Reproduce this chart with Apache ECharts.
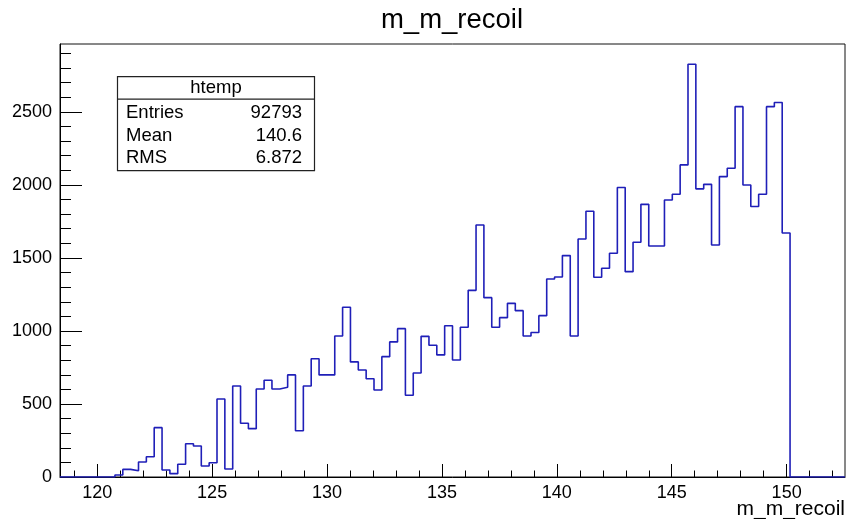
<!DOCTYPE html>
<html>
<head>
<meta charset="utf-8">
<script src="https://cdn.jsdelivr.net/npm/echarts@6/dist/echarts.min.js"></script>
<style>
html,body{margin:0;padding:0;background:#fff;}
#chart{width:848px;height:519px;}
</style>
</head>
<body>
<div id="chart"></div>
<script>
// ---- data ----
const chartTitle = "m_m_recoil";
const xAxisTitle = "m_m_recoil";
const histName = "htemp";
const statLabels = ["Entries", "Mean", "RMS"];
const statValues = ["92793", "140.6", "6.872"];
const xMin = 118.38;
const xMax = 152.54;
const yMax = 2965;
const nBins = 100;
const counts = [
  0, 0, 0, 0, 0, 0, 0, 14, 52, 43,
  103, 139, 338, 48, 23, 87, 228, 212, 75, 98,
  534, 55, 623, 368, 331, 603, 662, 603, 614, 699,
  317, 623, 810, 699, 699, 966, 1162, 788, 733, 673,
  596, 824, 925, 1016, 560, 712, 963, 902, 836, 1036,
  801, 1025, 1278, 1726, 1228, 1025, 1091, 1189, 1139, 966,
  989, 1105, 1356, 1370, 1516, 966, 1630, 1820, 1368, 1429,
  1532, 1982, 1406, 1607, 1867, 1582, 1582, 1897, 1936, 2137,
  2826, 1973, 2004, 1589, 2057, 2114, 2536, 2000, 1852, 1936,
  2536, 2564, 1671, 0, 0, 0, 0, 0, 0, 0
];
const xMajorTicks = [120, 125, 130, 135, 140, 145, 150];
const xMinorTicks = [119, 121, 122, 123, 124, 126, 127, 128, 129, 131, 132, 133, 134, 136, 137, 138, 139, 141, 142, 143, 144, 146, 147, 148, 149, 151, 152];
const yMajorTicks = [0, 500, 1000, 1500, 2000, 2500];
const yMinorTicks = [100, 200, 300, 400, 600, 700, 800, 900, 1100, 1200, 1300, 1400, 1600, 1700, 1800, 1900, 2100, 2200, 2300, 2400, 2600, 2700, 2800, 2900];

// ---- build step outline from bins ----
const binWidth = (xMax - xMin) / nBins;
const stepData = counts.map((c, k) => [xMin + k * binWidth, c]);
stepData.push([xMax, counts[nBins - 1]]);

const FONT = "'Liberation Sans', Arial, Helvetica, sans-serif";
const GRID = { left: 60, right: 3, top: 44, bottom: 42 };
const STAT_FONT = '18.5px ' + FONT;

const chart = echarts.init(document.getElementById('chart'), null, { renderer: 'canvas' });
const black = '#000';
const plain = v => String(v);

chart.setOption({
  animation: false,
  backgroundColor: '#fff',
  grid: Object.assign({ show: true, borderColor: '#111', borderWidth: 1, backgroundColor: 'transparent' }, GRID),
  xAxis: [
    {
      type: 'value', min: xMin, max: xMax, position: 'bottom',
      axisLine: { show: true, onZero: false, lineStyle: { color: black, width: 1 } },
      axisTick: { show: true, inside: true, length: 13, customValues: xMajorTicks, lineStyle: { color: black, width: 1 } },
      axisLabel: { show: true, customValues: xMajorTicks, formatter: plain, fontSize: 18, color: black, fontFamily: FONT, margin: 7 },
      splitLine: { show: false }
    },
    {
      type: 'value', min: xMin, max: xMax, position: 'bottom',
      axisLine: { show: false },
      axisTick: { show: true, inside: true, length: 6.5, customValues: xMinorTicks, lineStyle: { color: black, width: 1 } },
      axisLabel: { show: false },
      splitLine: { show: false }
    }
  ],
  yAxis: [
    {
      type: 'value', min: 0, max: yMax, position: 'left',
      axisLine: { show: true, onZero: false, lineStyle: { color: black, width: 1 } },
      axisTick: { show: true, inside: true, length: 22, customValues: yMajorTicks, lineStyle: { color: black, width: 1 } },
      axisLabel: { show: true, customValues: yMajorTicks, formatter: plain, fontSize: 18, color: black, fontFamily: FONT, margin: 8 },
      splitLine: { show: false }
    },
    {
      type: 'value', min: 0, max: yMax, position: 'left', offset: 0,
      axisLine: { show: false },
      axisTick: { show: true, inside: true, length: 11, customValues: yMinorTicks, lineStyle: { color: black, width: 1 } },
      axisLabel: { show: false },
      splitLine: { show: false }
    }
  ],
  series: [
    {
      type: 'line', xAxisIndex: 0, yAxisIndex: 0,
      step: 'end', showSymbol: false, symbol: 'none',
      data: stepData,
      lineStyle: { color: '#1f1fb8', width: 1.6 },
      z: 5
    }
  ],
  graphic: [
    {
      type: 'text', z: 100,
      style: { text: chartTitle, x: 452, y: 20, textAlign: 'center', textVerticalAlign: 'middle', font: '27.5px ' + FONT, fill: black }
    },
    {
      type: 'text', z: 100,
      style: { text: xAxisTitle, x: 845, y: 509, textAlign: 'right', textVerticalAlign: 'middle', font: '21px ' + FONT, fill: black }
    },
    {
      type: 'group', left: 115, top: 76, z: 100,
      children: [
        { type: 'rect', shape: { x: 0.5, y: 0.5, width: 197, height: 94 }, style: { fill: '#fff', stroke: '#222', lineWidth: 1.2 } },
        { type: 'line', shape: { x1: 0.5, y1: 23, x2: 197.5, y2: 23 }, style: { stroke: '#222', lineWidth: 1.2 } },
        { type: 'text', style: { text: histName, x: 99, y: 12, textAlign: 'center', textVerticalAlign: 'middle', font: STAT_FONT, fill: black } },
        { type: 'text', style: { text: statLabels[0], x: 9, y: 37, textAlign: 'left', textVerticalAlign: 'middle', font: STAT_FONT, fill: black } },
        { type: 'text', style: { text: statLabels[1], x: 9, y: 60, textAlign: 'left', textVerticalAlign: 'middle', font: STAT_FONT, fill: black } },
        { type: 'text', style: { text: statLabels[2], x: 9, y: 82, textAlign: 'left', textVerticalAlign: 'middle', font: STAT_FONT, fill: black } },
        { type: 'text', style: { text: statValues[0], x: 185, y: 37, textAlign: 'right', textVerticalAlign: 'middle', font: STAT_FONT, fill: black } },
        { type: 'text', style: { text: statValues[1], x: 185, y: 60, textAlign: 'right', textVerticalAlign: 'middle', font: STAT_FONT, fill: black } },
        { type: 'text', style: { text: statValues[2], x: 185, y: 82, textAlign: 'right', textVerticalAlign: 'middle', font: STAT_FONT, fill: black } }
      ]
    }
  ]
});
</script>
</body>
</html>
